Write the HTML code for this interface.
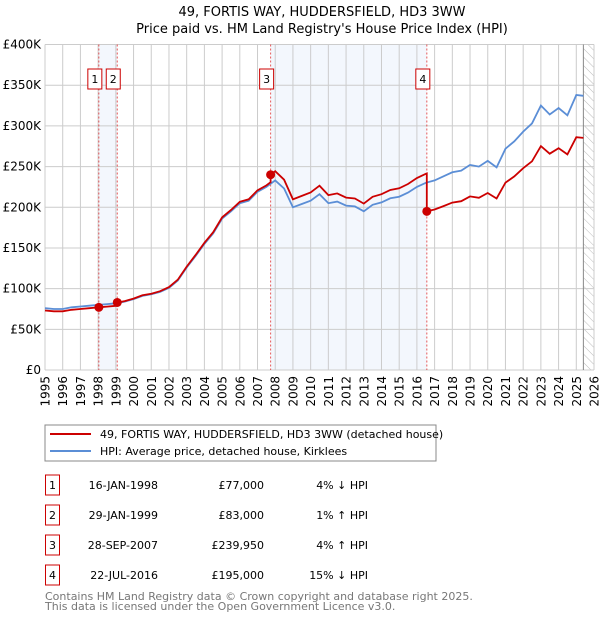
<!DOCTYPE html>
<html><head><meta charset="utf-8"><style>
body{margin:0;background:#fff;font-family:"Liberation Sans","DejaVu Sans",sans-serif;}
svg text{font-family:"DejaVu Sans","Liberation Sans",sans-serif;}
</style></head><body>
<svg id="c" width="600" height="620" viewBox="0 0 600 620" xmlns="http://www.w3.org/2000/svg">
<defs><pattern id="hatch" width="6" height="6" patternUnits="userSpaceOnUse" patternTransform="rotate(-45)"><line x1="0" y1="0" x2="0" y2="6" stroke="#bbb" stroke-width="1"/></pattern></defs>
<text x="322" y="16" text-anchor="middle" font-size="13" fill="#000">49, FORTIS WAY, HUDDERSFIELD, HD3 3WW</text>
<text x="322" y="33" text-anchor="middle" font-size="13" fill="#000">Price paid vs. HM Land Registry's House Price Index (HPI)</text>
<g id="plot"></g>
<rect x="45" y="425" width="391" height="36" fill="#fff" stroke="#888"/>
<line x1="50" y1="434" x2="91" y2="434" stroke="#cc0000" stroke-width="2"/>
<text x="100" y="438" font-size="11">49, FORTIS WAY, HUDDERSFIELD, HD3 3WW (detached house)</text>
<line x1="50" y1="451" x2="91" y2="451" stroke="#5b8ed6" stroke-width="2"/>
<text x="100" y="455" font-size="11">HPI: Average price, detached house, Kirklees</text>
<g id="table"></g>
<text x="45" y="600" font-size="11" fill="#777">Contains HM Land Registry data © Crown copyright and database right 2025.</text>
<text x="45" y="610" font-size="11" fill="#777">This data is licensed under the Open Government Licence v3.0.</text>
</svg>
<script>
const hpiYears=[1995,1995.5,1996,1996.5,1997,1997.5,1998,1998.5,1999,1999.5,2000,2000.5,2001,2001.5,2002,2002.5,2003,2003.5,2004,2004.5,2005,2005.5,2006,2006.5,2007,2007.5,2008,2008.5,2009,2009.5,2010,2010.5,2011,2011.5,2012,2012.5,2013,2013.5,2014,2014.5,2015,2015.5,2016,2016.5,2017,2017.5,2018,2018.5,2019,2019.5,2020,2020.5,2021,2021.5,2022,2022.5,2023,2023.5,2024,2024.5,2025,2025.4];
const hpiValues=[76,75,75,77,78,79,80,81,82,84,87,91,93,96,101,110,126,140,155,168,186,195,205,208,219,225,233,223,200,204,208,216,205,207,202,201,195,203,206,211,213,218,225,230,233,238,243,245,252,250,257,249,272,281,293,303,325,314,322,313,338,337];
const saleDates=[1998.04,1999.08,2007.74,2016.56];
const salePrices=[77,83,239.95,195];
const saleLabels=["1","2","3","4"];
const saleDateText=["16-JAN-1998","29-JAN-1999","28-SEP-2007","22-JUL-2016"];
const salePriceText=["£77,000","£83,000","£239,950","£195,000"];
const saleHpiText=["4% ↓ HPI","1% ↑ HPI","4% ↑ HPI","15% ↓ HPI"];
const yTicks=[0,50,100,150,200,250,300,350,400];
const yTickLabels=["£0","£50K","£100K","£150K","£200K","£250K","£300K","£350K","£400K"];
const NS="http://www.w3.org/2000/svg";
const X0=45,X1=594,Y0=370,Y1=44.5;
const xs=y=>X0+(y-1995)/31*(X1-X0);
const ys=v=>Y0-v/400*(Y0-Y1);
const plot=document.getElementById('plot');
function mk(tag,attrs,parent){const e=document.createElementNS(NS,tag);for(const k in attrs)e.setAttribute(k,attrs[k]);(parent||plot).appendChild(e);return e;}
function hpiAt(t){for(let i=1;i<hpiYears.length;i++){if(t<=hpiYears[i]){const f=(t-hpiYears[i-1])/(hpiYears[i]-hpiYears[i-1]);return hpiValues[i-1]+f*(hpiValues[i]-hpiValues[i-1]);}}return hpiValues[hpiValues.length-1];}
// shaded
let s1=mk('rect',{x:xs(saleDates[0]),y:Y1,width:xs(saleDates[1])-xs(saleDates[0]),height:Y0-Y1,fill:'#eef3fc',opacity:0.7});

let s2=mk('rect',{x:xs(saleDates[2]),y:Y1,width:xs(saleDates[3])-xs(saleDates[2]),height:Y0-Y1,fill:'#eef3fc',opacity:0.7});

let hx=xs(hpiYears[hpiYears.length-1]);
let h=mk('rect',{x:hx,y:Y1,width:X1-hx,height:Y0-Y1,fill:'url(#hatch)'});

// grid
for(let yr=1995;yr<=2026;yr++){
 let g=mk('line',{x1:xs(yr),x2:xs(yr),y1:Y1,y2:Y0,stroke:'#ccc','stroke-width':1});
 
 let t=mk('text',{x:0,y:0,'font-size':12,'text-anchor':'end',transform:`translate(${xs(yr)+4.5},${Y0+6}) rotate(-90)`});
 t.textContent=yr;
}
yTicks.forEach((v,i)=>{
 let g=mk('line',{x1:X0,x2:X1,y1:ys(v),y2:ys(v),stroke:'#ccc','stroke-width':1});
 
 let t=mk('text',{x:X0-4,y:ys(v)+4,'font-size':12,'text-anchor':'end'});
 t.textContent=yTickLabels[i];
});
let vb=mk('line',{x1:hx,x2:hx,y1:Y1,y2:Y0,stroke:'#888','stroke-width':1});

// sale lines
saleDates.forEach((d,i)=>{
 let l=mk('line',{x1:xs(d),x2:xs(d),y1:Y1,y2:Y0,stroke:'#e03030','stroke-width':1,'stroke-dasharray':'2,2',opacity:0.8});
 
});
// HPI line
let hp=hpiYears.map((y,i)=>`${xs(y).toFixed(1)},${ys(hpiValues[i]).toFixed(1)}`).join(' ');
let hl=mk('polyline',{points:hp,fill:'none',stroke:'#5b8ed6','stroke-width':1.8});

// price line: HPI scaled from each sale
function factor(t){let k=0;for(let i=0;i<saleDates.length;i++)if(t>=saleDates[i])k=i;return salePrices[k]/hpiAt(saleDates[k]);}
let pts=[];
hpiYears.forEach((y,i)=>{
 saleDates.forEach((d,j)=>{if(d>(i?hpiYears[i-1]:0)&&d<=y){pts.push([d,hpiAt(d)*(j?salePrices[j-1]/hpiAt(saleDates[j-1]):salePrices[0]/hpiAt(saleDates[0]))]);pts.push([d,salePrices[j]]);}});
 pts.push([y,hpiValues[i]*factor(y)]);
});
let pl=mk('polyline',{points:pts.map(p=>`${xs(p[0]).toFixed(1)},${ys(p[1]).toFixed(1)}`).join(' '),fill:'none',stroke:'#cc0000','stroke-width':1.8});

saleDates.forEach((d,i)=>{
 let c=mk('circle',{cx:xs(d),cy:ys(salePrices[i]),r:4.5,fill:'#cc0000'});
 
 let bx=xs(d)-11;
 let r=mk('rect',{x:bx,y:69,width:14,height:20,fill:'#fff',stroke:'#cc0000','stroke-width':1});
 
 let t=mk('text',{x:bx+7,y:83,'font-size':11,'text-anchor':'middle'});
 t.textContent=saleLabels[i];
});
// table
const tb=document.getElementById('table');
saleDates.forEach((d,i)=>{
 const y=485+i*30;
 let r=mk('rect',{x:45.5,y:y-10,width:14,height:20,fill:'#fff',stroke:'#cc0000'},tb);
 
 let t0=mk('text',{x:52.5,y:y+4,'font-size':11,'text-anchor':'middle'},tb);t0.textContent=saleLabels[i];
 
 let t1=mk('text',{x:158,y:y+4,'font-size':11,'text-anchor':'end'},tb);t1.textContent=saleDateText[i];
 
 let t2=mk('text',{x:264,y:y+4,'font-size':11,'text-anchor':'end'},tb);t2.textContent=salePriceText[i];
 
 let t3=mk('text',{x:368,y:y+4,'font-size':11,'text-anchor':'end'},tb);t3.textContent=saleHpiText[i];
 
});
</script>
</body></html>
